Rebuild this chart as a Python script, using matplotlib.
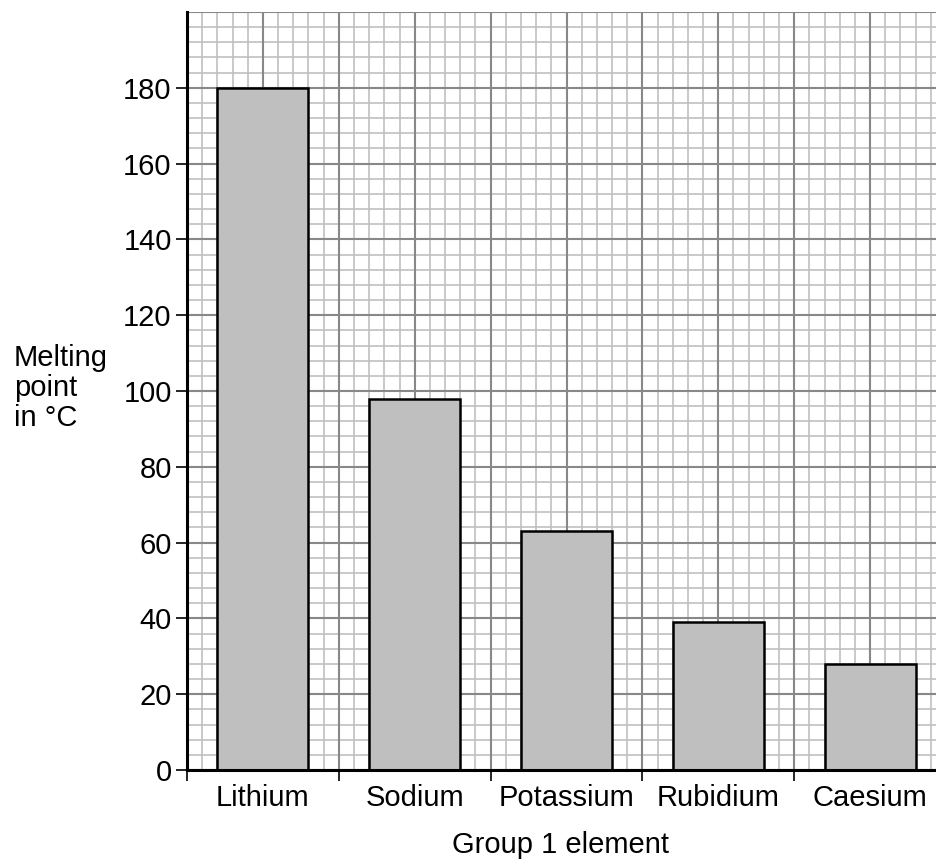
import numpy as np
import matplotlib
matplotlib.use('Agg')
import matplotlib.pyplot as plt

elements = ['Lithium', 'Sodium', 'Potassium', 'Rubidium', 'Caesium']
melting_points = [180, 98, 63, 39, 28]
y_ticks = [0, 20, 40, 60, 80, 100, 120, 140, 160, 180]

plt.rcParams['font.family'] = ['Liberation Sans', 'DejaVu Sans']

fig = plt.figure(figsize=(9.36, 8.6), dpi=100)
ax = fig.add_axes([187 / 936, 90 / 860, 759 / 936, 758 / 860])

x = np.arange(len(elements))
ax.set_xlim(-0.5, len(elements) - 0.5)
ax.set_ylim(0, 200)

# graph paper: 5 small squares per big square
minor_x = np.arange(-0.5, len(elements) - 0.5 + 1e-9, 0.1)
minor_y = np.arange(0, 200 + 1e-9, 4)
ax.vlines(minor_x, 0, 200, color='#c0c0c0', lw=1.2, zorder=0)
ax.hlines(minor_y, -0.5, len(elements) - 0.5, color='#c0c0c0', lw=1.2, zorder=0)
major_x = np.arange(-0.5, len(elements) - 0.5 + 1e-9, 0.5)
major_y = np.arange(0, 200 + 1e-9, 20)
ax.vlines(major_x, 0, 200, color='#888888', lw=1.5, zorder=0.5)
ax.hlines(major_y, -0.5, len(elements) - 0.5, color='#888888', lw=1.5, zorder=0.5)

ax.bar(x, melting_points, width=0.6, color='#bfbfbf', edgecolor='black',
       linewidth=1.8, zorder=2)

for side in ['top', 'right']:
    ax.spines[side].set_visible(False)
for side in ['left', 'bottom']:
    ax.spines[side].set_linewidth(2.2)
    ax.spines[side].set_zorder(3)

ax.set_yticks(y_ticks)
ax.tick_params(axis='y', direction='out', length=8, width=1.2, labelsize=21, pad=3)

# tick marks at category boundaries, labels at centres
ax.set_xticks(np.arange(-0.5, len(elements) - 0.5, 1.0))
ax.set_xticklabels([])
ax.set_xticks(x, minor=True)
ax.set_xticklabels(elements, minor=True)
ax.tick_params(axis='x', which='major', direction='out', length=8, width=1.2)
ax.tick_params(axis='x', which='minor', length=0, labelsize=21, pad=10)

fig.text(14 / 936, 1 - 388 / 860, 'Melting\npoint\nin °C', fontsize=21,
         ha='left', va='center', linespacing=1.1)
fig.text(561 / 936, 1 - 845 / 860, 'Group 1 element', fontsize=21,
         ha='center', va='center')

fig.savefig('out.png', dpi=100)
